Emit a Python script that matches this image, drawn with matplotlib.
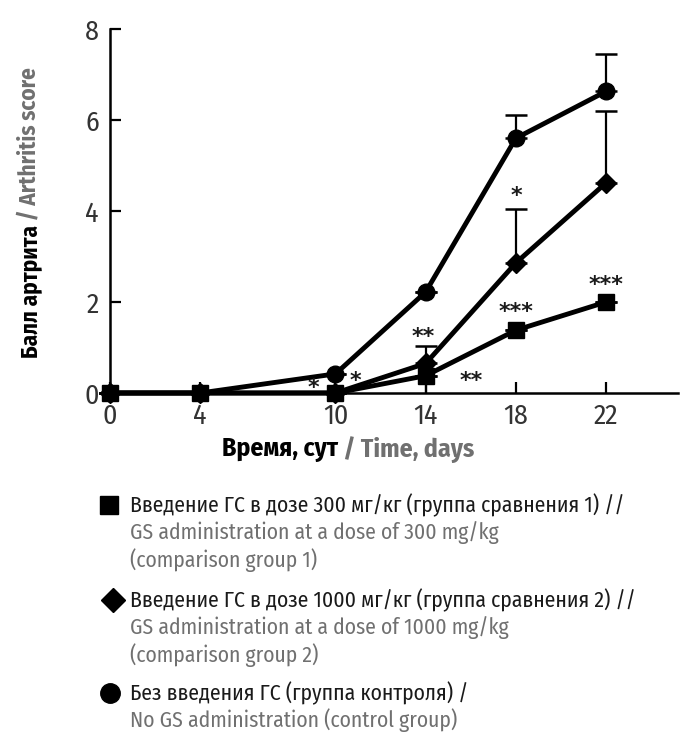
import matplotlib
matplotlib.use("Agg")
import matplotlib.pyplot as plt
from matplotlib import font_manager
from matplotlib.ft2font import FT2Font


def has_cyrillic(path):
    try:
        return ord("Б") in FT2Font(path).get_charmap()
    except Exception:
        return False


# pick a narrow face with Cyrillic if one exists, Roboto otherwise
cands = {}
for f in font_manager.fontManager.ttflist:
    if ("Narrow" in f.name or "Condensed" in f.name) and has_cyrillic(f.fname):
        cands.setdefault(f.name, set()).add(f.weight)
good = sorted(n for n, w in cands.items()
              if any((isinstance(x, int) and x >= 600) or x == "bold" for x in w))
BASE = good[0] if good else (sorted(cands)[0] if cands else "Roboto")
plt.rcParams["font.family"] = [BASE, "Roboto", "DejaVu Sans"]

days = [0, 4, 10, 14, 18, 22]

control = [0, 0, 0.42, 2.22, 5.6, 6.63]
control_err = [0, 0, 0, 0, 0.5, 0.82]

dose1000 = [0, 0, 0, 0.65, 2.86, 4.62]
dose1000_err = [0, 0, 0, 0.38, 1.18, 1.58]

dose300 = [0, 0, 0, 0.38, 1.38, 2.0]
dose300_err = [0, 0, 0, 0, 0, 0]

# significance marks: (day, y, text)
stars = [
    (9.0, -0.1, "*"),
    (10.9, 0.05, "*"),
    (13.9, 1.0, "**"),
    (16.0, 0.05, "**"),
    (18.0, 4.1, "*"),
    (18.0, 1.55, "***"),
    (22.0, 2.15, "***"),
]

x_ticks = [0, 4, 10, 14, 18, 22]
y_ticks = [0, 2, 4, 6, 8]

GRAY = "#707070"


def fit_size(fig, r, text, size, target, **kw):
    t = fig.text(0, 0, text, fontsize=size, **kw)
    w = t.get_window_extent(r).width
    t.remove()
    return size * target / w


def main():
    fig = plt.figure(figsize=(7.0, 7.49), dpi=100)
    ax = fig.add_axes([0.157, 0.4753, 0.812, 0.486])

    series = [
        (control, control_err, "o", 12),
        (dose1000, dose1000_err, "D", 10),
        (dose300, dose300_err, "s", 11),
    ]
    for vals, err, marker, ms in series:
        ax.errorbar(days, vals, yerr=[[0] * len(err), err], fmt="none",
                    ecolor="black", elinewidth=1.6, capsize=8, capthick=1.8,
                    clip_on=False)
        ax.plot(days, vals, color="black", lw=3.5, marker=marker, ms=ms,
                clip_on=False, zorder=3)

    # small lower bar under the square at day 14
    ax.plot([14, 14], [0, 0.38], color="black", lw=1.6, zorder=2)

    for x, y, s in stars:
        ax.text(x, y, s, ha="center", va="bottom", fontsize=16,
                fontweight="bold", color="#1a1a1a", family="DejaVu Sans")

    ax.set_xlim(0, 25.2)
    ax.set_ylim(0, 8)
    ax.set_xticks(x_ticks)
    ax.set_yticks(y_ticks)
    ax.tick_params(direction="in", length=8, width=1.6, labelsize=20,
                   pad=8, colors="black", labelcolor="#333333")
    ax.tick_params(axis="x", pad=7)
    for side in ("top", "right"):
        ax.spines[side].set_visible(False)
    for side in ("left", "bottom"):
        ax.spines[side].set_linewidth(1.8)

    fig.canvas.draw()
    r = fig.canvas.get_renderer()

    # two-colour axis labels
    xs = 0.93 * fit_size(fig, r, "Время, сут / Time, days", 15, 272,
                         fontweight="bold")
    t1 = fig.text(222 / 700, 1 - 450 / 749, "Время, сут", fontsize=xs,
                  fontweight="bold", color="black", ha="left", va="center")
    bb = t1.get_window_extent(r)
    fig.text(bb.x1 / fig.bbox.width, 1 - 450 / 749, " / Time, days",
             fontsize=xs, fontweight="bold", color=GRAY, ha="left",
             va="center")

    ys = fit_size(fig, r, "Балл артрита / Arthritis score", 15, 292,
                  fontweight="bold")
    t2 = fig.text(30 / 700, 1 - 358 / 749, "Балл артрита", fontsize=ys,
                  fontweight="bold", color="black", rotation=90,
                  ha="center", va="bottom")
    bb = t2.get_window_extent(r)
    fig.text(30 / 700, bb.y1 / fig.bbox.height, " / Arthritis score",
             fontsize=ys, fontweight="bold", color=GRAY, rotation=90,
             ha="center", va="bottom")

    legend = [
        ("s", 13, 109, ["Введение ГС в дозе 300 мг/кг (группа сравнения 1) //",
                        "GS administration at a dose of 300 mg/kg",
                        "(comparison group 1)"], 505),
        ("D", 12, 113, ["Введение ГС в дозе 1000 мг/кг (группа сравнения 2) //",
                        "GS administration at a dose of 1000 mg/kg",
                        "(comparison group 2)"], 600),
        ("o", 14, 110, ["Без введения ГС (группа контроля) /",
                        "No GS administration (control group)"], 693),
    ]
    ls = fit_size(fig, r, legend[1][3][0], 15, 505)
    for marker, ms, mx, lines, ytop in legend:
        fig.lines.append(plt.Line2D([mx / 700], [1 - ytop / 749],
                                    marker=marker, ms=ms, color="black",
                                    transform=fig.transFigure))
        for i, line in enumerate(lines):
            fig.text(130 / 700, 1 - (ytop + i * 27.5) / 749, line,
                     fontsize=ls, color="#1a1a1a" if i == 0 else GRAY,
                     ha="left", va="center")

    fig.savefig("out.png", dpi=100)
    plt.close(fig)


if __name__ == "__main__":
    main()
